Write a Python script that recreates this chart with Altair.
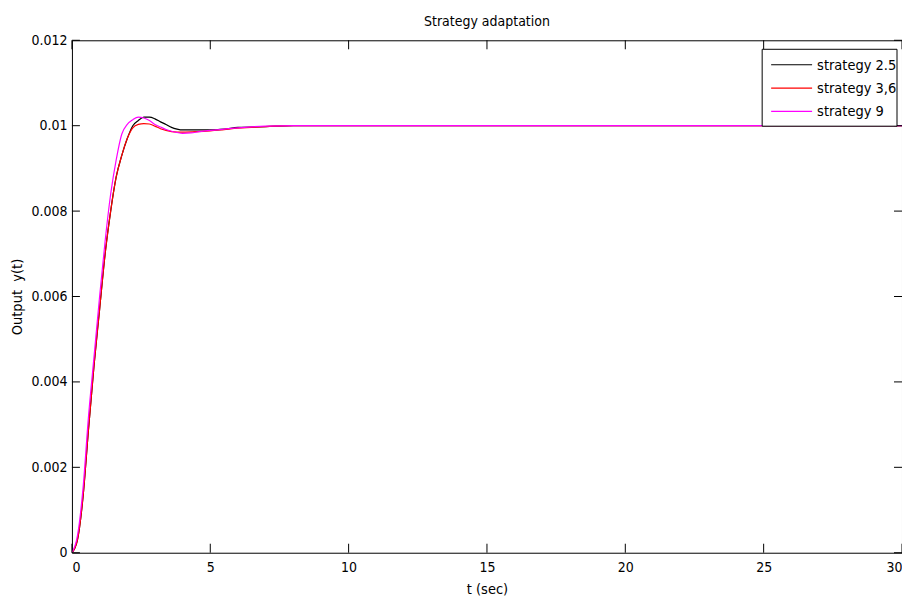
import altair as alt
import pandas as pd

# ---- data ----
t_black = [0, 0.2, 0.4, 0.6, 0.8, 1.0, 1.2, 1.4, 1.6, 1.8, 2.0, 2.2, 2.4, 2.6, 2.8, 3.0, 3.2, 3.4, 3.6, 3.8, 4.0, 4.5, 5.0, 5.5, 6.0, 7.0, 8.0, 10.0, 30.0]
y_black = [0, 0.0003, 0.0013, 0.0029, 0.0044, 0.0057, 0.0070, 0.0080, 0.0088, 0.0093, 0.0097, 0.0100, 0.01012, 0.0102, 0.0102, 0.01016, 0.01009, 0.01003, 0.00996, 0.00992, 0.0099, 0.0099, 0.0099, 0.00992, 0.00996, 0.00998, 0.0100, 0.0100, 0.0100]

t_red = [0, 0.2, 0.4, 0.6, 0.8, 1.0, 1.2, 1.4, 1.6, 1.8, 2.0, 2.2, 2.4, 2.6, 2.8, 3.0, 3.2, 3.4, 3.6, 3.8, 4.0, 4.5, 5.0, 5.5, 6.0, 7.0, 8.0, 10.0, 30.0]
y_red = [0, 0.0003, 0.0013, 0.0029, 0.0044, 0.0057, 0.0070, 0.0080, 0.0088, 0.0093, 0.0097, 0.00995, 0.01003, 0.01005, 0.01004, 0.00999, 0.00993, 0.00989, 0.00986, 0.00985, 0.00985, 0.00986, 0.00988, 0.00991, 0.00994, 0.00998, 0.0100, 0.0100, 0.0100]

t_mag = [0, 0.2, 0.4, 0.6, 0.8, 1.0, 1.2, 1.4, 1.6, 1.8, 2.0, 2.2, 2.4, 2.6, 2.8, 3.0, 3.2, 3.4, 3.6, 3.8, 4.0, 4.3, 4.6, 5.0, 5.5, 6.0, 7.0, 8.0, 10.0, 30.0]
y_mag = [0, 0.0004, 0.0015, 0.0032, 0.0046, 0.0060, 0.0073, 0.0084, 0.0092, 0.0098, 0.01003, 0.01014, 0.0102, 0.01018, 0.01012, 0.01003, 0.00997, 0.00991, 0.00987, 0.00984, 0.00982, 0.00983, 0.00986, 0.00989, 0.00992, 0.00995, 0.00999, 0.0100, 0.0100, 0.0100]

series_names = ["strategy 2.5", "strategy 3,6", "strategy 9"]
series_colors = ["#000000", "#ff0000", "#ff00ff"]

x_ticks = [0, 5, 10, 15, 20, 25, 30]
y_ticks = [0, 0.002, 0.004, 0.006, 0.008, 0.010, 0.012]

FONT = "Liberation Sans Narrow, Arial Narrow, DejaVu Sans Condensed, Liberation Sans, sans-serif"
W, H = 831, 513

rows = []
for name, ts, ys in zip(series_names, [t_black, t_red, t_mag], [y_black, y_red, y_mag]):
    for t, y in zip(ts, ys):
        rows.append({"series": name, "t": t, "y": y})
df = pd.DataFrame(rows)

label_expr = "datum.value == 0 ? '0' : abs(datum.value - 0.01) < 1e-9 ? '0.01' : format(datum.value, '.3f')"

xscale = alt.Scale(domain=[0, 30], nice=False, zero=False)
yscale = alt.Scale(domain=[0, 0.012], nice=False)

lines = alt.Chart(df).mark_line(strokeWidth=1.2, clip=True, interpolate="monotone").encode(
    x=alt.X("t:Q", scale=xscale,
            axis=alt.Axis(values=x_ticks, title="t (sec)", labelPadding=8, ticks=False, domain=False,
                          grid=False, titlePadding=8, labelFont=FONT, labelFontSize=14,
                          labelColor="#000000", titleFont=FONT, titleFontSize=14.5,
                          titleFontWeight="normal", titleColor="#000000")),
    y=alt.Y("y:Q", scale=yscale,
            axis=alt.Axis(values=y_ticks, labelExpr=label_expr, title="Output \u00a0y(t)", labelPadding=5,
                          ticks=False, domain=False, grid=False, titlePadding=6, labelFont=FONT,
                          labelFontSize=14, labelColor="#000000", titleFont=FONT, titleFontSize=14.5,
                          titleFontWeight="normal", titleColor="#000000")),
    color=alt.Color("series:N", scale=alt.Scale(domain=series_names, range=series_colors), legend=None),
)

xt = pd.DataFrame({"v": x_ticks})
yt = pd.DataFrame({"v": y_ticks})
tick_layers = [
    alt.Chart(xt).mark_rule(color="#000000", strokeWidth=1).encode(x=alt.X("v:Q", scale=xscale), y=alt.value(H), y2=alt.value(H - 9)),
    alt.Chart(xt).mark_rule(color="#000000", strokeWidth=1).encode(x=alt.X("v:Q", scale=xscale), y=alt.value(0), y2=alt.value(9)),
    alt.Chart(yt).mark_rule(color="#000000", strokeWidth=1).encode(y=alt.Y("v:Q", scale=yscale), x=alt.value(0), x2=alt.value(8)),
    alt.Chart(yt).mark_rule(color="#000000", strokeWidth=1).encode(y=alt.Y("v:Q", scale=yscale), x=alt.value(W), x2=alt.value(W - 8)),
]

# legend drawn manually
leg_box = alt.Chart(pd.DataFrame({"a": [0]})).mark_rect(fill="white", stroke="#000000", strokeWidth=1).encode(
    x=alt.value(691), x2=alt.value(826), y=alt.value(9), y2=alt.value(86))
leg_layers = [leg_box]
for i, (name, col) in enumerate(zip(series_names, series_colors)):
    yy = 24.5 + 23.3 * i
    sub = pd.DataFrame({"series": [name]})
    leg_layers.append(alt.Chart(sub).mark_rule(color=col, strokeWidth=1.2).encode(
        x=alt.value(700), x2=alt.value(741), y=alt.value(yy)))
    leg_layers.append(alt.Chart(sub).mark_text(align="left", baseline="middle", font=FONT, fontSize=14.5, color="#000000").encode(
        x=alt.value(746), y=alt.value(yy + 1), text="series:N"))

chart = alt.layer(lines, *tick_layers, *leg_layers).properties(
    width=W, height=H,
    title=alt.TitleParams("Strategy adaptation", font=FONT, fontSize=14, fontWeight="normal", color="#000000", offset=4),
    autosize=alt.AutoSizeParams(type="none"),
    padding={"left": 64, "top": 32, "right": 0, "bottom": 50},
    background="white",
).configure_view(stroke="#000000", strokeWidth=1)

chart.save("out.html", embed_options={"renderer": "svg", "actions": False})
